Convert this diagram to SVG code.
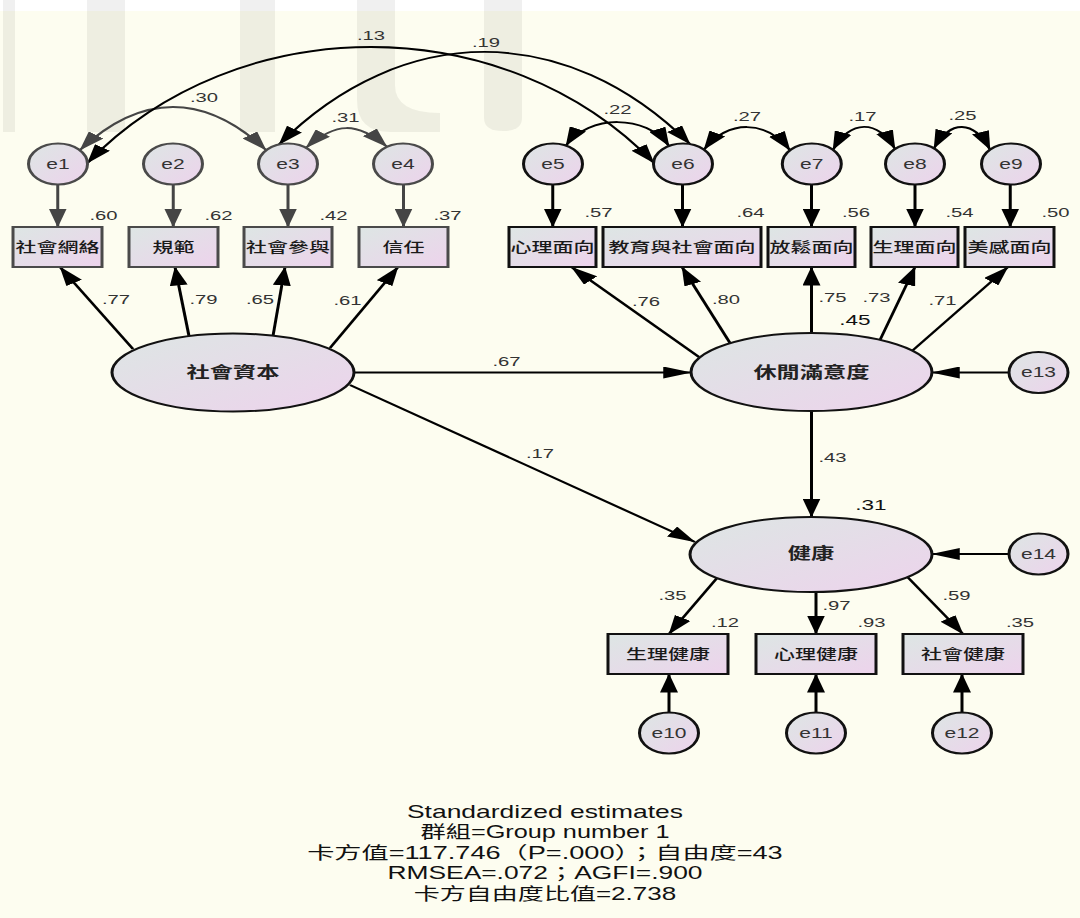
<svg xmlns="http://www.w3.org/2000/svg" width="1080" height="918" viewBox="0 0 1080 918">
<defs>
<linearGradient id="g" x1="0" y1="0" x2="1" y2="1">
<stop offset="0" stop-color="#dde6e4"/>
<stop offset="1" stop-color="#edd3ec"/>
</linearGradient>
<marker id="a" viewBox="0 0 19 12" refX="18.5" refY="6" markerWidth="19" markerHeight="12" markerUnits="userSpaceOnUse" orient="auto-start-reverse">
<path d="M0,0 L19,6 L0,12 Z" fill="#000"/>
</marker>
<marker id="al" viewBox="0 0 19 12" refX="18.5" refY="6" markerWidth="19" markerHeight="12" markerUnits="userSpaceOnUse" orient="auto-start-reverse">
<path d="M0,0 L19,6 L0,12 Z" fill="#454545"/>
</marker>
<style>
.n{fill:url(#g);stroke:#111;stroke-width:2}
.nl{fill:url(#g);stroke:#4a4a4a;stroke-width:2}
.c{fill:none;stroke:#000;stroke-width:2;marker-end:url(#a)}
.cl{fill:none;stroke:#454545;stroke-width:2;marker-end:url(#al)}
.cv{fill:none;stroke:#000;stroke-width:1.8;marker-start:url(#a);marker-end:url(#a)}
.cvl{fill:none;stroke:#454545;stroke-width:1.8;marker-start:url(#al);marker-end:url(#al)}
text{font-family:"Liberation Sans","Noto Sans CJK TC",sans-serif}
.el{font-size:14px;fill:#333;text-anchor:middle;dominant-baseline:central}
.bl{font-size:14px;font-weight:500;fill:#1a1a1a;text-anchor:middle;dominant-baseline:central}
.ll{font-size:15.5px;font-weight:bold;fill:#222;text-anchor:middle;dominant-baseline:central}
.v{font-size:13.5px;fill:#333;text-anchor:middle}
.vb{font-size:15px;fill:#111;text-anchor:middle}
.ft{font-size:17.5px;fill:#111;text-anchor:middle}
</style>
</defs>
<rect x="0" y="0" width="1080" height="918" fill="#ffffff"/>
<rect x="0" y="11" width="1080" height="907" fill="#fdfdf0"/>
<g id="watermark" fill="#000" fill-opacity="0.06">
<rect x="3" y="0" width="12" height="132"/>
<rect x="87" y="0" width="38" height="132"/>
<rect x="240" y="0" width="35" height="132"/>
<path d="M357,0 H395 V85 Q395,113 440,113 V132 H390 Q357,132 357,100 Z"/>
<path d="M484,0 H522 V118 Q522,131 503,131 Q484,131 484,118 Z"/>
</g>
<g transform="scale(1.5,1)">
<g id="connectors">
<path class="cl" d="M38.5,184.5 L38.5,227"/>
<path class="cl" d="M115.5,184.5 L115.5,227"/>
<path class="cl" d="M192,184.5 L192,227"/>
<path class="cl" d="M269,184.5 L269,227"/>
<path class="c" d="M368.5,184.5 L368.5,227"/>
<path class="c" d="M455,184.5 L455,227"/>
<path class="c" d="M541,184.5 L541,227"/>
<path class="c" d="M610,184.5 L610,227"/>
<path class="c" d="M673.5,184.5 L673.5,227"/>
<path class="c" d="M88.67,349 L40,267"/>
<path class="c" d="M126,336 L116.67,267"/>
<path class="c" d="M182,336 L190,267"/>
<path class="c" d="M220,348 L265.33,267"/>
<path class="c" d="M466,357 L381,267"/>
<path class="c" d="M486.67,343 L454.67,267"/>
<path class="c" d="M541,333 L541,267"/>
<path class="c" d="M586.67,340 L610,267"/>
<path class="c" d="M608,351 L672,267"/>
<path class="c" d="M236,372.5 L460.67,372.5"/>
<path class="c" d="M233.33,385 L463.33,542"/>
<path class="c" d="M541,411 L541,517"/>
<path class="c" d="M672.67,372.5 L621.33,372.5"/>
<path class="c" d="M672.67,554 L621.33,554"/>
<path class="c" d="M478,578 L446,634"/>
<path class="c" d="M544,592 L544,634"/>
<path class="c" d="M605,577 L642,634"/>
<path class="c" d="M446,712.5 L446,674"/>
<path class="c" d="M544,712.5 L544,674"/>
<path class="c" d="M641.33,712.5 L641.33,674"/>
<path class="cvl" d="M53.33,150 C94.33,92.7 136.33,92.7 177.33,150"/>
<path class="cvl" d="M204,147.8 C224,121.6 238,121.6 258,146.8"/>
<path class="cv" d="M58.33,163 C158.33,8.33 336,8.33 436,163"/>
<path class="cv" d="M186,144.5 C268.5,21.2 377.5,21.2 460,144.1"/>
<path class="cv" d="M377.33,145.6 C392.33,114.1 431,114.1 446,146"/>
<path class="cv" d="M469.33,149.6 C486,119.4 510,119.4 526.67,150.2"/>
<path class="cv" d="M555.33,149.8 C567.33,119.5 584.67,119.5 596.67,148.9"/>
<path class="cv" d="M622.67,148.3 C633.67,119.7 649,119.7 660,149.6"/>
</g>
<g id="e1"><ellipse class="nl" cx="38.67" cy="164" rx="19.67" ry="20.5"/><text class="el" x="38.67" y="164">e1</text></g>
<g id="e2"><ellipse class="nl" cx="115.33" cy="164" rx="19.67" ry="20.5"/><text class="el" x="115.33" y="164">e2</text></g>
<g id="e3"><ellipse class="nl" cx="192" cy="164" rx="19.67" ry="20.5"/><text class="el" x="192" y="164">e3</text></g>
<g id="e4"><ellipse class="nl" cx="268.67" cy="164" rx="19.67" ry="20.5"/><text class="el" x="268.67" y="164">e4</text></g>
<g id="e5"><ellipse class="n" cx="368.67" cy="164" rx="19.67" ry="20.5"/><text class="el" x="368.67" y="164">e5</text></g>
<g id="e6"><ellipse class="n" cx="455.33" cy="164" rx="19.67" ry="20.5"/><text class="el" x="455.33" y="164">e6</text></g>
<g id="e7"><ellipse class="n" cx="541.2" cy="164" rx="19.67" ry="20.5"/><text class="el" x="541.2" y="164">e7</text></g>
<g id="e8"><ellipse class="n" cx="610" cy="164" rx="19.67" ry="20.5"/><text class="el" x="610" y="164">e8</text></g>
<g id="e9"><ellipse class="n" cx="674" cy="164" rx="19.67" ry="20.5"/><text class="el" x="674" y="164">e9</text></g>
<g id="e13"><ellipse class="n" cx="692.33" cy="372.5" rx="19.67" ry="20.5"/><text class="el" x="692.33" y="372.5">e13</text></g>
<g id="e14"><ellipse class="n" cx="692.33" cy="554" rx="19.67" ry="20.5"/><text class="el" x="692.33" y="554">e14</text></g>
<g id="e10"><ellipse class="n" cx="446" cy="733" rx="19.67" ry="20.5"/><text class="el" x="446" y="733">e10</text></g>
<g id="e11"><ellipse class="n" cx="544" cy="733" rx="19.67" ry="20.5"/><text class="el" x="544" y="733">e11</text></g>
<g id="e12"><ellipse class="n" cx="641.33" cy="733" rx="19.67" ry="20.5"/><text class="el" x="641.33" y="733">e12</text></g>
<g id="b-social-network"><rect class="nl" x="8.67" y="227" width="59.33" height="40"/><text class="bl" x="38.33" y="247">社會網絡</text></g>
<g id="b-norms"><rect class="nl" x="86" y="227" width="59.33" height="40"/><text class="bl" x="115.67" y="247">規範</text></g>
<g id="b-participation"><rect class="nl" x="162.67" y="227" width="58.67" height="40"/><text class="bl" x="192" y="247">社會參與</text></g>
<g id="b-trust"><rect class="nl" x="239.33" y="227" width="59.33" height="40"/><text class="bl" x="269" y="247">信任</text></g>
<g id="b-psych"><rect class="n" x="339.33" y="227" width="58" height="40"/><text class="bl" x="368.33" y="247">心理面向</text></g>
<g id="b-edu"><rect class="n" x="402" y="227" width="105.33" height="40"/><text class="bl" x="454.67" y="247">教育與社會面向</text></g>
<g id="b-relax"><rect class="n" x="512" y="227" width="58" height="40"/><text class="bl" x="541" y="247">放鬆面向</text></g>
<g id="b-physio"><rect class="n" x="580.67" y="227" width="58" height="40"/><text class="bl" x="609.67" y="247">生理面向</text></g>
<g id="b-aesthetic"><rect class="n" x="643.33" y="227" width="59.33" height="40"/><text class="bl" x="673" y="247">美感面向</text></g>
<g id="b-phys-health"><rect class="n" x="405.33" y="634" width="80" height="40"/><text class="bl" x="445.33" y="654">生理健康</text></g>
<g id="b-mental-health"><rect class="n" x="504" y="634" width="80" height="40"/><text class="bl" x="544" y="654">心理健康</text></g>
<g id="b-social-health"><rect class="n" x="602" y="634" width="80" height="40"/><text class="bl" x="642" y="654">社會健康</text></g>
<g id="social-capital"><ellipse class="n" cx="155.33" cy="372.5" rx="80.67" ry="39"/><text class="ll" x="155.33" y="373">社會資本</text></g>
<g id="leisure-satisfaction"><ellipse class="n" cx="541" cy="372" rx="80.33" ry="39"/><text class="ll" x="541" y="373">休閒滿意度</text></g>
<g id="health"><ellipse class="n" cx="540.67" cy="554.5" rx="80.67" ry="37.5"/><text class="ll" x="540.67" y="554">健康</text></g>
<g id="labels">
<text class="v" x="136" y="102">.30</text>
<text class="v" x="247.33" y="40">.13</text>
<text class="v" x="324" y="47">.19</text>
<text class="v" x="230.33" y="122">.31</text>
<text class="v" x="411.67" y="114">.22</text>
<text class="v" x="498" y="121">.27</text>
<text class="v" x="575" y="121">.17</text>
<text class="v" x="641.67" y="120">.25</text>
<text class="v" x="69" y="220">.60</text>
<text class="v" x="145.67" y="220">.62</text>
<text class="v" x="222.33" y="220">.42</text>
<text class="v" x="298.33" y="220">.37</text>
<text class="v" x="399" y="217">.57</text>
<text class="v" x="500.33" y="217">.64</text>
<text class="v" x="570.67" y="217">.56</text>
<text class="v" x="639.67" y="217">.54</text>
<text class="v" x="703.67" y="217">.50</text>
<text class="v" x="77.33" y="304">.77</text>
<text class="v" x="135.67" y="304">.79</text>
<text class="v" x="173.33" y="304">.65</text>
<text class="v" x="231.67" y="305">.61</text>
<text class="v" x="337.67" y="366">.67</text>
<text class="v" x="360" y="458">.17</text>
<text class="v" x="430.67" y="306">.76</text>
<text class="v" x="484" y="304">.80</text>
<text class="v" x="555" y="302">.75</text>
<text class="v" x="584.33" y="302">.73</text>
<text class="v" x="628.33" y="305">.71</text>
<text class="vb" x="570" y="325">.45</text>
<text class="v" x="555" y="462">.43</text>
<text class="vb" x="580.67" y="510">.31</text>
<text class="v" x="448.33" y="600">.35</text>
<text class="v" x="557.67" y="610">.97</text>
<text class="v" x="637.67" y="600">.59</text>
<text class="v" x="483.33" y="627">.12</text>
<text class="v" x="581" y="627">.93</text>
<text class="v" x="680" y="627">.35</text>
</g>
<g id="fit-info">
<text class="ft" x="363.33" y="818" textLength="184" lengthAdjust="spacingAndGlyphs">Standardized estimates</text>
<text class="ft" x="363.33" y="838.5" textLength="166" lengthAdjust="spacingAndGlyphs">群組=Group number 1</text>
<text class="ft" x="363.33" y="859" textLength="317" lengthAdjust="spacingAndGlyphs">卡方值=117.746（P=.000）；自由度=43</text>
<text class="ft" x="363.33" y="879.5" textLength="210" lengthAdjust="spacingAndGlyphs">RMSEA=.072；AGFI=.900</text>
<text class="ft" x="363.33" y="900" textLength="175" lengthAdjust="spacingAndGlyphs">卡方自由度比值=2.738</text>
</g>
</g>
</svg>
